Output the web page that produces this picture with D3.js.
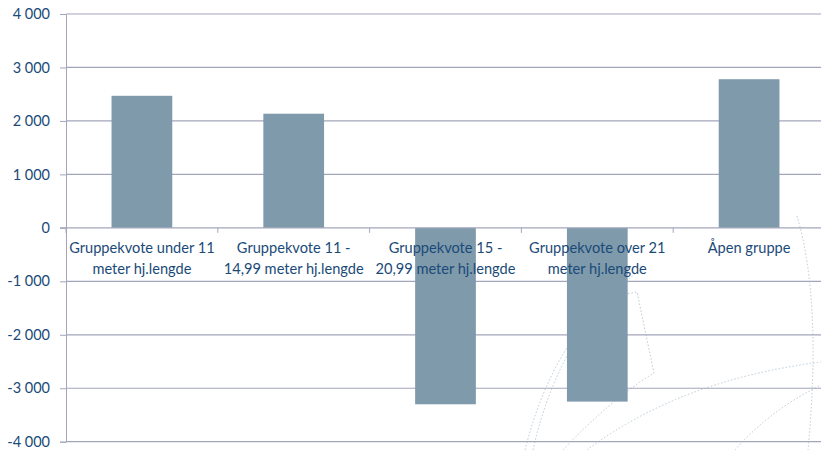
<!DOCTYPE html>
<html>
<head>
<meta charset="utf-8">
<script src="https://cdn.jsdelivr.net/npm/d3@7"></script>
<style>
  body { margin: 0; background: #fff; }
  svg { display: block; }
</style>
</head>
<body>
<script>
// data
var categories = [
  ["Gruppekvote under 11", "meter hj.lengde"],
  ["Gruppekvote 11 -", "14,99 meter hj.lengde"],
  ["Gruppekvote 15 -", "20,99 meter hj.lengde"],
  ["Gruppekvote over 21", "meter hj.lengde"],
  ["Åpen gruppe"]
];
var values = [2470, 2135, -3300, -3250, 2780];
var yTicks = [4000, 3000, 2000, 1000, 0, -1000, -2000, -3000, -4000];

var width = 821, height = 450;
var textColor = "#1a4a78", gridColor = "#a3a6bb", barColor = "#7f9aab";

var svg = d3.select("body").append("svg")
  .attr("width", width)
  .attr("height", height);

// faint dotted watermark in the lower right corner
var mark = svg.append("g")
  .attr("fill", "none")
  .attr("stroke", "#b9cad6")
  .attr("stroke-width", 1)
  .attr("stroke-dasharray", "1.5,2");
var curves = [
  "M797,216 Q822,300 808,450",
  "M525,450 Q540,390 568,346",
  "M563,450 Q610,400 654,373 L637,292 L626,294",
  "M587,450 Q680,380 821,362",
  "M735,450 Q770,410 821,385",
  "M533,450 Q560,330 640,270"
];
curves.forEach(function(c){ mark.append("path").attr("d", c); });

var x = d3.scaleBand()
  .domain(d3.range(categories.length))
  .range([66, 825])
  .paddingInner(0.6)
  .paddingOuter(0.3);

var y = d3.scaleLinear()
  .domain([-4000, 4000])
  .range([441.7, 14]);

var fmt = function(d){
  var s = d3.format(",")(d).replace(/,/g, " ");
  return s.replace("−", "-");
};

// gridlines + y axis
var yAxis = svg.append("g")
  .attr("transform", "translate(66,0)")
  .call(d3.axisLeft(y).tickValues(yTicks).tickSize(6).tickPadding(10).tickFormat(fmt));
yAxis.select(".domain").attr("stroke", gridColor);
yAxis.selectAll(".tick line").attr("stroke", gridColor);
yAxis.selectAll(".tick text")
  .attr("fill", textColor)
  .style("font-family", "Lato, 'Open Sans', sans-serif")
  .style("font-size", "14.5px");

svg.append("g").selectAll("line")
  .data(yTicks.filter(function(d){ return d !== 0; }))
  .join("line")
  .attr("x1", 66).attr("x2", width)
  .attr("y1", function(d){ return y(d); })
  .attr("y2", function(d){ return y(d); })
  .attr("stroke", gridColor)
  .attr("stroke-width", 1.2);

// bars
svg.append("g").selectAll("rect")
  .data(values)
  .join("rect")
  .attr("x", function(d, i){ return x(i); })
  .attr("width", x.bandwidth())
  .attr("y", function(d){ return y(Math.max(0, d)); })
  .attr("height", function(d){ return Math.abs(y(d) - y(0)); })
  .attr("fill", barColor);

// zero line with category ticks
svg.append("line")
  .attr("x1", 60).attr("x2", width)
  .attr("y1", y(0)).attr("y2", y(0))
  .attr("stroke", gridColor)
  .attr("stroke-width", 1.2);

svg.append("g").selectAll("line")
  .data(d3.range(categories.length + 1))
  .join("line")
  .attr("x1", function(i){ return 66 + i * x.step(); })
  .attr("x2", function(i){ return 66 + i * x.step(); })
  .attr("y1", y(0)).attr("y2", y(0) + 5)
  .attr("stroke", gridColor);

// category labels sitting just below the zero line
var labels = svg.append("g").selectAll("text")
  .data(categories)
  .join("text")
  .attr("text-anchor", "middle")
  .attr("fill", textColor)
  .style("font-family", "Lato, 'Open Sans', sans-serif")
  .style("font-size", "14.6px");

labels.each(function(lines, i){
  var t = d3.select(this);
  lines.forEach(function(line, k){
    t.append("tspan")
      .attr("x", x(i) + x.bandwidth() / 2)
      .attr("y", y(0) + 25 + k * 21)
      .text(line);
  });
});
</script>
</body>
</html>
